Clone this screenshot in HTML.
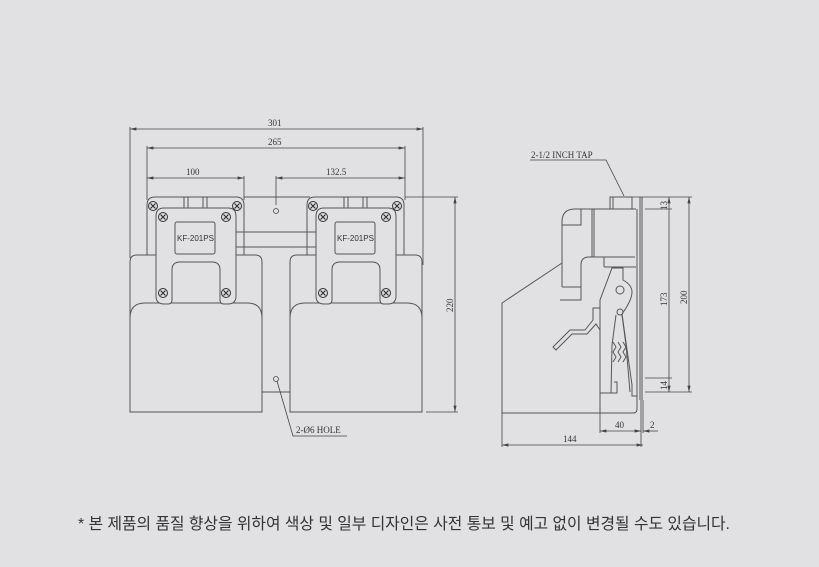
<!DOCTYPE html>
<html><head><meta charset="utf-8"><style>
html,body{margin:0;padding:0;background:#e1e1e3;}
svg{display:block}
.t{font-family:"Liberation Serif",serif;font-size:9px;fill:#333}
.k{font-family:"Liberation Sans",sans-serif;font-size:8px;fill:#333}
</style></head><body>
<svg width="819" height="567" viewBox="0 0 819 567" xmlns="http://www.w3.org/2000/svg">
<rect width="819" height="567" fill="#e1e1e3"/>
<defs>
<marker id="a" viewBox="0 0 8 4" refX="8" refY="2" markerWidth="8" markerHeight="4" orient="auto-start-reverse"><path d="M0,0 L8,2 L0,4z" fill="#444"/></marker>
<g id="scr"><circle r="4.5" fill="#ddd" stroke="#333" stroke-width="1"/><path d="M-2.5,-2.5L2.5,2.5M2.5,-2.5L-2.5,2.5" stroke="#333" stroke-width="1.2"/></g>
<g id="unit" fill="none" stroke="#555" stroke-width="1">
<path d="M147,255 V205 q0,-8 8,-8 H236 q8,0 8,8 V255"/>
<path d="M130,412 V262 q0,-7 7,-7 H255 q7,0 7,7 V412 Z" fill="#e1e1e3"/>
<path d="M130,318 q0,-15 15,-15 H247 q15,0 15,15"/>
<path d="M184,197 V208 M188,197 V208 M203,197 V208 M207,197 V208"/>
<path d="M164,208 H228 q8,0 8,8 V296 q0,8 -8,8 h-4 q-4,0 -4,-4 V270 q0,-8 -8,-8 H180 q-8,0 -8,8 V300 q0,4 -4,4 h-4 q-8,0 -8,-8 V216 q0,-8 8,-8Z" fill="#e1e1e3"/>
<rect x="175" y="222" width="40" height="32" rx="2"/>
</g>
</defs>
<g fill="none" stroke="#444" stroke-width="0.8">
<line x1="130" y1="129" x2="423" y2="129" marker-start="url(#a)" marker-end="url(#a)"/>
<line x1="147" y1="148" x2="405" y2="148" marker-start="url(#a)" marker-end="url(#a)"/>
<line x1="147" y1="178" x2="244" y2="178" marker-start="url(#a)" marker-end="url(#a)"/>
<line x1="276" y1="178" x2="405" y2="178" marker-start="url(#a)" marker-end="url(#a)"/>
<path d="M130,127 V258 M423,127 V265 M147,146 V200 M405,146 V200 M244,176 V200 M276,176 V205"/>
<path d="M405,197 H458 M426,412 H458"/>
<line x1="455" y1="197" x2="455" y2="412" marker-start="url(#a)" marker-end="url(#a)"/>
</g>
<text class="t" x="268" y="126">301</text>
<text class="t" x="268" y="145">265</text>
<text class="t" x="186" y="175">100</text>
<text class="t" x="326" y="175">132.5</text>
<text class="t" transform="translate(453,312) rotate(-90)">220</text>
<g fill="none" stroke="#555" stroke-width="1">
<path d="M244,197 H310"/>
<rect x="235" y="232" width="83" height="15"/>
<path d="M262,392 H290"/>
</g>
<use href="#unit"/>
<use href="#unit" transform="translate(160,0)"/>
<g>
<use href="#scr" x="153" y="206"/><use href="#scr" x="237" y="206"/>
<use href="#scr" x="163" y="217"/><use href="#scr" x="226" y="217"/>
<use href="#scr" x="163" y="293"/><use href="#scr" x="226" y="293"/>
<use href="#scr" x="313" y="206"/><use href="#scr" x="397" y="206"/>
<use href="#scr" x="323" y="217"/><use href="#scr" x="386" y="217"/>
<use href="#scr" x="323" y="293"/><use href="#scr" x="386" y="293"/>
</g>
<text class="k" x="177" y="241">KF-201PS</text>
<text class="k" x="337" y="241">KF-201PS</text>
<g fill="none" stroke="#444" stroke-width="0.8">
<circle cx="276" cy="211" r="2.5"/><circle cx="276" cy="379" r="2.5"/>
<path d="M277,381 L293,436 H347"/>
</g>
<text class="t" x="296" y="433">2-Ø6 HOLE</text>

<g fill="none" stroke="#555" stroke-width="1">
<path d="M502,303 L562,263"/>
<path d="M502,303 V413 H633 q4,0 4,-4 V209"/>
<path d="M562,287 V222 q0,-13 13,-13 H636"/>
<path d="M562,225 H581 V209 M592,209 V257 M594,209 V257 M562,287 H581 V300 H560"/>
<path d="M581,300 V265 q0,-8 8,-8 H635 M604,257 V267 M604,267 H636"/>
<path d="M610,209 V197 H632 V209 M613,197 V209"/>
<path d="M640,197 V400 M642,197 V400"/>
<path d="M600,413 V300 L612,268 H623 V280 q9,5 9,12 q0,8 -10,22 L632,385 V396 H637"/>
<path d="M600,393 H617 V382 H614"/>
<circle cx="620" cy="290" r="4"/>
<circle cx="620" cy="312" r="3"/>
<path d="M616,315 L612,345 L611,393 M622,315 L626,345 L630,392 M613,342 l3,5 l-3,5 l3,5 l-3,5 M618,342 l3,5 l-3,5 l3,5 l-3,5 M623,342 l3,5 l-3,5 l3,5 l-3,5"/>
<path d="M600,308 H593 V320 L585,330 H570 L553,347 L556,350 L572,334 H587 L596,324 L600,330"/>
</g>
<g fill="none" stroke="#444" stroke-width="0.8">
<path d="M530,160 H606 L624,196"/>
<path d="M632,197 H692 M645,209 H672 M645,378 H672 M645,392 H692"/>
<line x1="669" y1="197" x2="669" y2="392" marker-start="url(#a)" marker-end="url(#a)"/>
<line x1="689" y1="197" x2="689" y2="392" marker-start="url(#a)" marker-end="url(#a)"/>
<path d="M600,413 V433 M641,400 V447 M502,413 V447 M643,400 V433"/>
<line x1="600" y1="431" x2="641" y2="431" marker-start="url(#a)" marker-end="url(#a)"/>
<line x1="643" y1="431" x2="658" y2="431" marker-start="url(#a)"/>
<line x1="502" y1="445" x2="643" y2="445" marker-start="url(#a)" marker-end="url(#a)"/>
</g>
<text class="t" x="531" y="158">2-1/2 INCH TAP</text>
<text class="t" transform="translate(667,210) rotate(-90)">13</text>
<text class="t" transform="translate(667,306) rotate(-90)">173</text>
<text class="t" transform="translate(667,390) rotate(-90)">14</text>
<text class="t" transform="translate(687,304) rotate(-90)">200</text>
<text class="t" x="615" y="428">40</text>
<text class="t" x="650" y="428">2</text>
<text class="t" x="563" y="442">144</text>

<text x="78" y="529" style="font-family:'Liberation Sans','Noto Sans CJK KR',sans-serif;font-size:15.8px;fill:#333">* 본 제품의 품질 향상을 위하여 색상 및 일부 디자인은 사전 통보 및 예고 없이 변경될 수도 있습니다.</text>
</svg>
</body></html>
